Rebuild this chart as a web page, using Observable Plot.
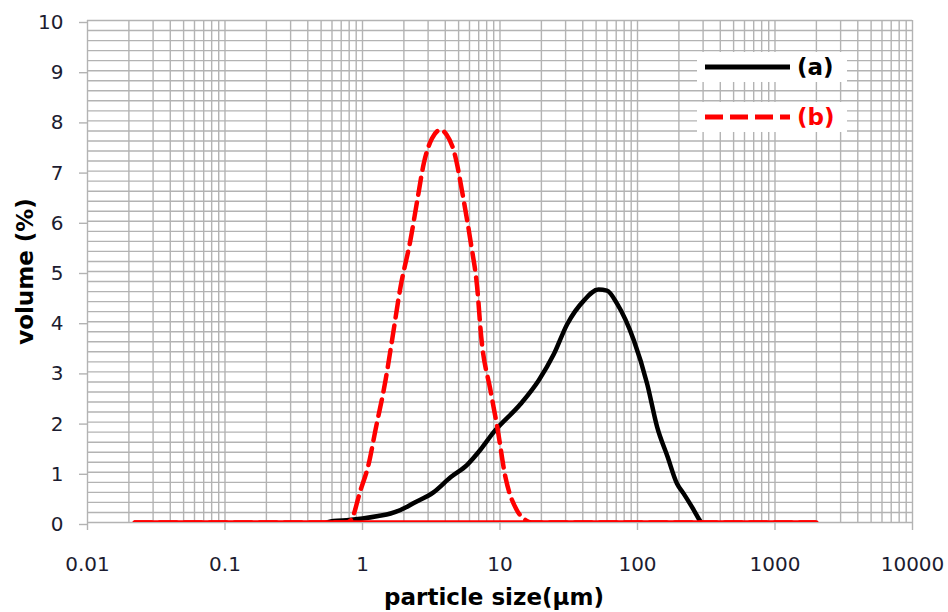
<!DOCTYPE html>
<html>
<head>
<meta charset="utf-8">
<script src="https://cdn.jsdelivr.net/npm/d3@7"></script>
<script src="https://cdn.jsdelivr.net/npm/@observablehq/plot@0.6"></script>
<style>
  html, body { margin: 0; padding: 0; background: #fff; }
  #wrap { position: relative; width: 948px; height: 612px; font-family: "DejaVu Sans", Verdana, sans-serif; }
  .leg { position: absolute; left: 697px; width: 150px; height: 30px; background: #fff; }
  .leg svg { position: absolute; left: 0; top: 0; }
  .leg span { position: absolute; left: 100px; top: 0; line-height: 30px; font-weight: bold; font-size: 23px; }
</style>
</head>
<body>
<div id="wrap"></div>
<script>
// ---- data ----
const sizeA = [0.55, 0.615, 0.8, 1.0, 1.3, 1.6, 1.89, 2.4, 3.28, 4.37, 5.77, 7.2, 9.0, 14.1, 19.1, 24.6, 30.8, 40.7, 52, 60, 71, 94, 117.6, 139, 165, 194, 216, 250, 278, 290];
const volA  = [0, 0.03, 0.05, 0.08, 0.13, 0.18, 0.25, 0.4, 0.6, 0.9, 1.15, 1.45, 1.8, 2.36, 2.83, 3.35, 3.95, 4.42, 4.64, 4.62, 4.36, 3.63, 2.76, 1.9, 1.32, 0.77, 0.58, 0.3, 0.08, 0];
const sizeB = [0.022, 0.5, 0.75, 0.82, 0.966, 1.11, 1.24, 1.47, 1.64, 1.89, 2.23, 2.5, 2.79, 3.2, 3.69, 4.1, 4.61, 5.45, 6.15, 6.82, 7.3, 8.53, 9.55, 10.96, 13.3, 15.3, 17, 2000];
const volB  = [0, 0, 0, 0.04, 0.64, 1.17, 1.83, 2.83, 3.63, 4.69, 5.62, 6.41, 7.15, 7.65, 7.82, 7.72, 7.41, 6.41, 5.55, 4.69, 3.7, 2.63, 1.9, 0.9, 0.24, 0.05, 0, 0];
const seriesNames = ["(a)", "(b)"];
const xTicks = [0.01, 0.1, 1, 10, 100, 1000, 10000];
const xTickLabels = ["0.01", "0.1", "1", "10", "100", "1000", "10000"];
const yTicks = [0, 1, 2, 3, 4, 5, 6, 7, 8, 9, 10];
const yTickLabels = ["0", "1", "2", "3", "4", "5", "6", "7", "8", "9", "10"];
const xTitle = "particle size(μm)";
const yTitle = "volume (%)";

// ---- derived ----
const dataA = sizeA.map((x, i) => ({x, y: volA[i]}));
const dataB = sizeB.map((x, i) => ({x, y: volB[i]}));
const xGrid = xTicks.flatMap(d => d === 10000 ? [d] : [1,2,3,4,5,6,7,8,9].map(k => +(k * d).toPrecision(6)));
const yGrid = d3.range(0, 51).map(i => i / 5);
const gridColor = "#b3b3b3";

const chart = Plot.plot({
  width: 948,
  height: 612,
  marginLeft: 87,
  marginRight: 36,
  marginTop: 20,
  marginBottom: 90,
  style: {fontFamily: "DejaVu Sans, Verdana, sans-serif", fontSize: "20px", background: "#fff"},
  x: {type: "log", domain: [0.01, 10000]},
  y: {domain: [0, 10]},
  marks: [
    Plot.ruleX(xGrid, {stroke: gridColor, strokeWidth: 1.4}),
    Plot.ruleY(yGrid, {stroke: gridColor, strokeWidth: 1.4}),
    Plot.axisX(xTicks, {tickSize: 8, tickPadding: 26, stroke: gridColor, strokeWidth: 1.4, fill: "#1c1c30",
      tickFormat: d => xTickLabels[xTicks.indexOf(d)], label: null}),
    Plot.axisY(yTicks, {tickSize: 8, tickPadding: 16, stroke: gridColor, strokeWidth: 1.4, fill: "#1c1c30", dy: 2,
      tickFormat: d => yTickLabels[yTicks.indexOf(d)], label: null}),
    Plot.line(dataA, {x: "x", y: "y", stroke: "#000", strokeWidth: 4.5, curve: "monotone-x", clip: true}),
    Plot.ruleY([0], {x1: d3.min(sizeB), x2: d3.max(sizeB), stroke: "red", strokeWidth: 4.5, clip: true}),
    Plot.line(dataB, {x: "x", y: "y", stroke: "red", strokeWidth: 4.5, strokeDasharray: "17,8", curve: "monotone-x", clip: true}),
    Plot.text([xTitle], {frameAnchor: "bottom", text: d => d, dy: 82, dx: -6, lineAnchor: "bottom", fontWeight: "bold", fontSize: 23, fill: "#000"}),
    Plot.text([yTitle], {frameAnchor: "left", text: d => d, dx: -62, textAnchor: "middle", rotate: -90, fontWeight: "bold", fontSize: 23, fill: "#000"})
  ]
});

const wrap = document.getElementById("wrap");
wrap.appendChild(chart);

// legend
const legendItems = [
  {name: seriesNames[0], color: "#000", dash: null, top: 52},
  {name: seriesNames[1], color: "red", dash: "18,7", top: 102}
];
for (const it of legendItems) {
  const div = document.createElement("div");
  div.className = "leg";
  div.style.top = it.top + "px";
  div.innerHTML = `<svg width="100" height="30"><line x1="8" x2="93" y1="15" y2="15" stroke="${it.color}" stroke-width="5" ${it.dash ? `stroke-dasharray="${it.dash}"` : ""}/></svg><span style="color:${it.color}">${it.name}</span>`;
  wrap.appendChild(div);
}
</script>
</body>
</html>
